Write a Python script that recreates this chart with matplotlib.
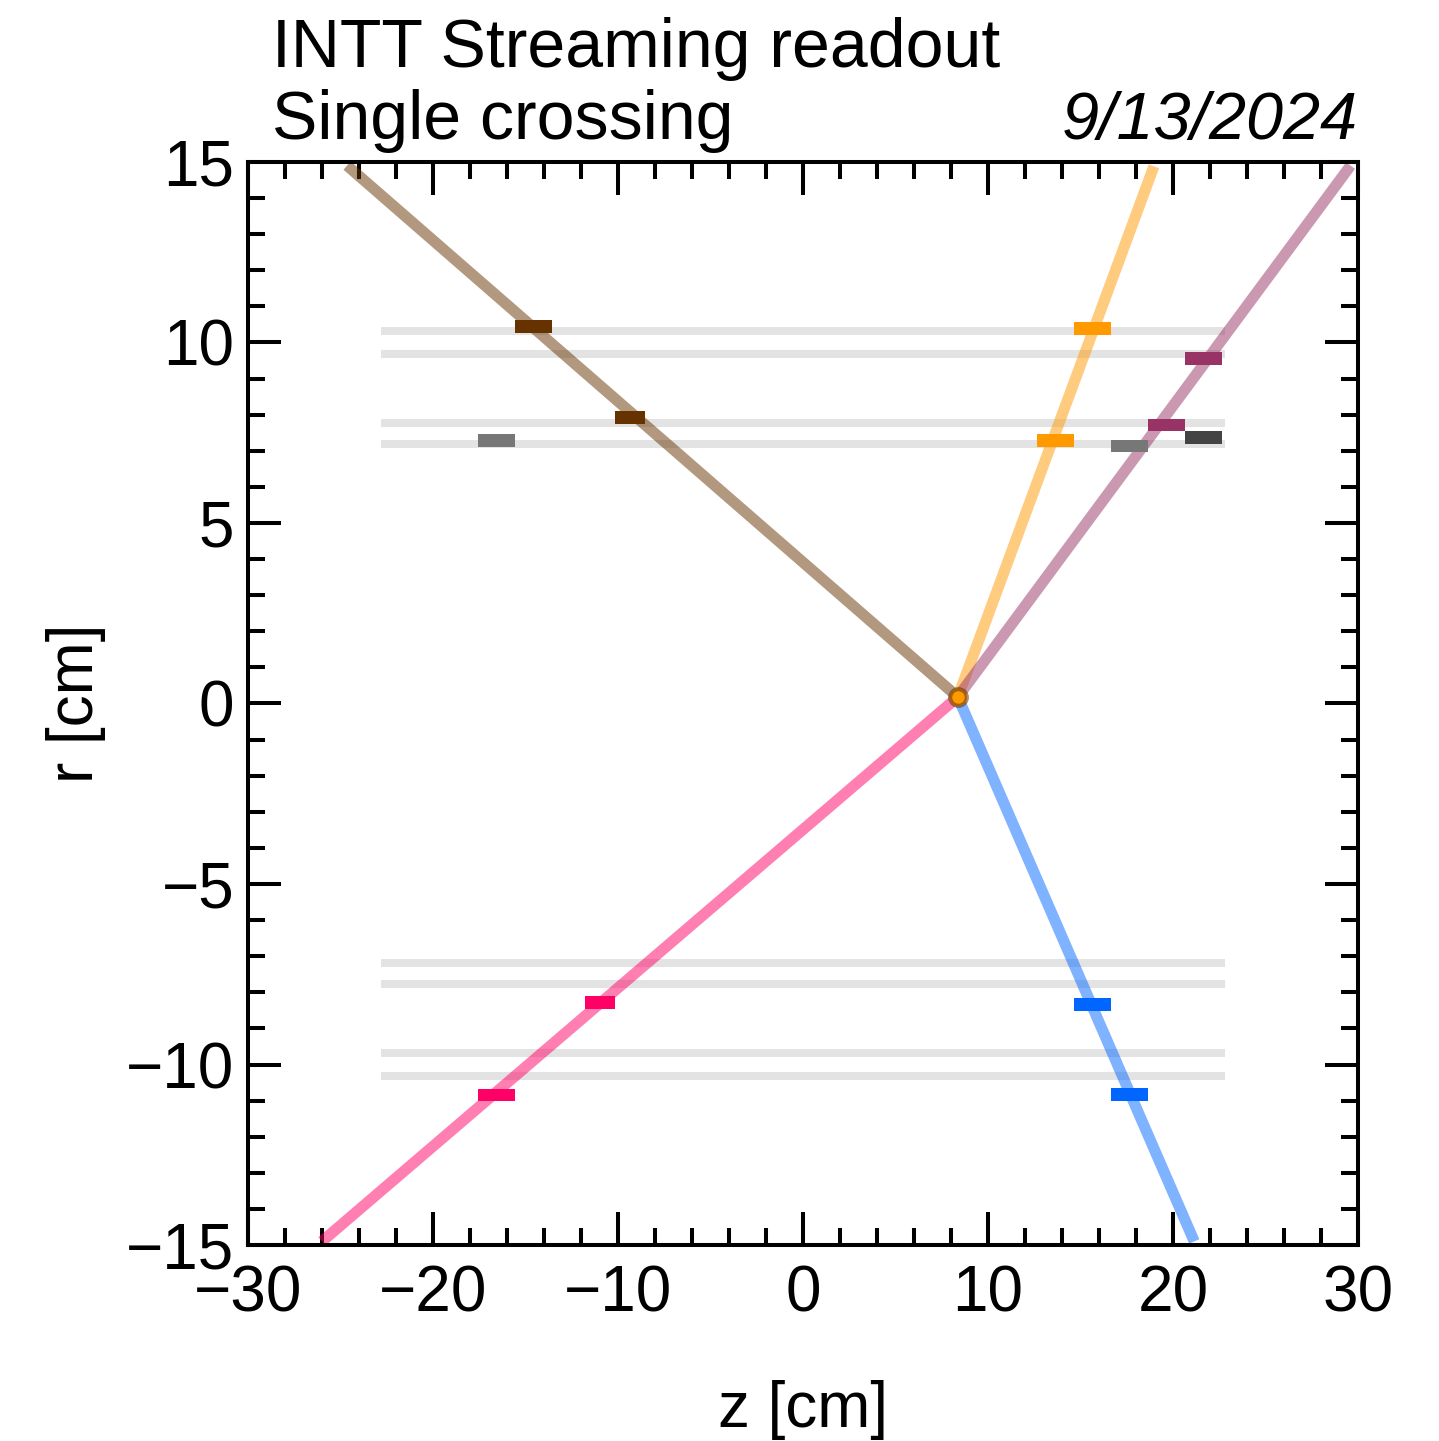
import matplotlib
matplotlib.use("Agg")
import matplotlib.pyplot as plt
from matplotlib.patches import Rectangle
from matplotlib.ticker import MultipleLocator

plt.rcParams['font.family'] = ['Liberation Sans', 'DejaVu Sans']

# ---- data ----
layer_r = [7.19, 7.78, 9.67, 10.33]          # INTT layer radii (drawn at +/-)
layer_z_half = 22.8

vertex_z = 8.37
vertex_r = 0.18

track_colors = ['#663300', '#ff9900', '#993366', '#ff0066', '#0066ff']
track_z_end = [-24.64, 18.97, 29.6, -26.0, 21.15]
track_r_end = [14.9, 14.88, 14.9, -14.9, -14.9]

hit_z = [-14.57, -9.35, -16.56, 15.64, 13.64, 17.65, 21.65, 19.65, 21.65,
         -16.56, -10.96, 15.64, 17.65]
hit_r = [10.45, 7.92, 7.29, 10.39, 7.28, 7.13, 9.56, 7.71, 7.37,
         -10.84, -8.28, -8.34, -10.83]
hit_w = [2.0, 1.6, 2.0, 2.0, 2.0, 2.0, 2.0, 2.0, 2.0,
         2.0, 1.6, 2.0, 2.0]
hit_colors = ['#663300', '#663300', '#777777', '#ff9900', '#ff9900', '#777777',
              '#993366', '#993366', '#444444',
              '#ff0066', '#ff0066', '#0066ff', '#0066ff']
hit_h = 0.35

fig = plt.figure(figsize=(14.39, 14.41), dpi=100)
ax = fig.add_axes([0.1723, 0.1360, 0.9437 - 0.1723, 0.8876 - 0.1360])

# layers
for r in layer_r:
    for s in (1, -1):
        ax.plot([-layer_z_half, layer_z_half], [s * r, s * r], color='#e3e3e3',
                lw=5.8, solid_capstyle='butt', zorder=1)

# tracks
for c, ze, re in zip(track_colors, track_z_end, track_r_end):
    ax.plot([vertex_z, ze], [vertex_r, re], color=c, alpha=0.5, lw=8,
            solid_capstyle='butt', zorder=2)

# vertex
ax.plot([vertex_z], [vertex_r], 'o', ms=12, mfc='#ff9900', mec=(0.4, 0.2, 0.0, 0.55),
        mew=3, zorder=3)

# hits
for z, r, w, c in zip(hit_z, hit_r, hit_w, hit_colors):
    ax.add_patch(Rectangle((z - w / 2, r - hit_h / 2), w, hit_h, facecolor=c,
                           edgecolor='none', zorder=4))

ax.set_xlim(-30, 30)
ax.set_ylim(-15, 15)
ax.xaxis.set_major_locator(MultipleLocator(10))
ax.xaxis.set_minor_locator(MultipleLocator(2))
ax.yaxis.set_major_locator(MultipleLocator(5))
ax.yaxis.set_minor_locator(MultipleLocator(1))
ax.tick_params(which='both', direction='in', top=True, right=True, width=2.9)
ax.tick_params(which='major', length=24, labelsize=46)
ax.tick_params(which='minor', length=12)
ax.tick_params(axis='x', which='major', pad=14)
ax.tick_params(axis='y', which='major', pad=10)
for sp in ax.spines.values():
    sp.set_linewidth(2.9)

ax.set_xlabel('z [cm]', fontsize=46, labelpad=40)
ax.set_ylabel('r [cm]', fontsize=46, labelpad=14)

fig.text(272 / 1439, 1 - 67 / 1441, 'INTT Streaming readout', fontsize=49,
         ha='left', va='baseline')
fig.text(272 / 1439, 1 - 139 / 1441, 'Single crossing', fontsize=49,
         ha='left', va='baseline')
fig.text(1358 / 1439, 1 - 139 / 1441, '9/13/2024', fontsize=48, style='italic',
         ha='right', va='baseline')

fig.savefig('out.png', dpi=100)
